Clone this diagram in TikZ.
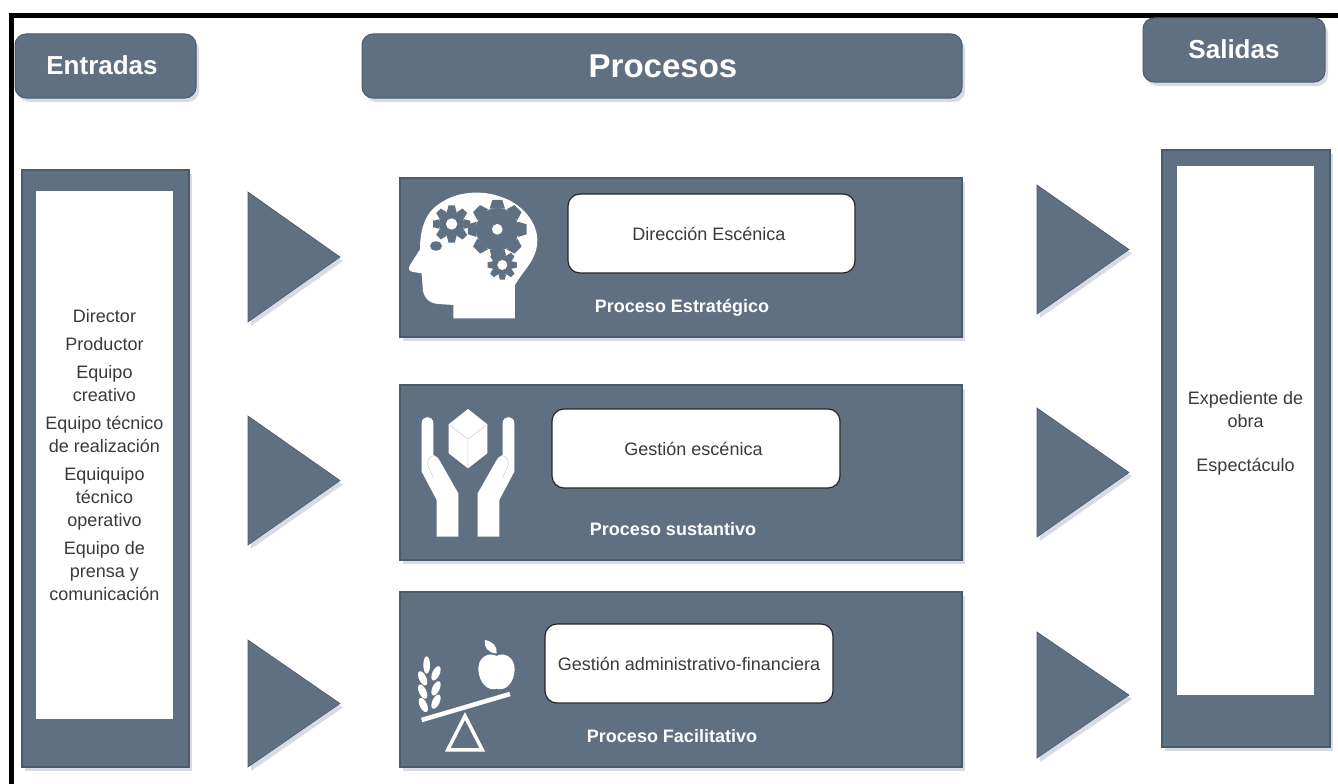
\documentclass[tikz,border=0pt]{standalone}
\usepackage{fontspec}
\setmainfont{Liberation Sans}
\usepackage{xcolor}
\usetikzlibrary{shadows}

\definecolor{pizarra}{HTML}{5F7083}
\definecolor{pizarraOscuro}{HTML}{4C5A6C}
\definecolor{sombraAzul}{HTML}{8C98B8}
\definecolor{textoGris}{HTML}{3A3A3A}

\tikzset{
  sombra/.style={drop shadow={shadow xshift=3pt,shadow yshift=-4pt,fill=sombraAzul,opacity=.35}},
  titulo/.style={draw=pizarraOscuro, line width=1pt, fill=pizarra, rounded corners=11pt, sombra, text=white, inner sep=0pt, font=\fontsize{26}{30}\selectfont\bfseries},
  panel/.style={draw=pizarraOscuro, line width=1.2pt, fill=pizarra, sombra, inner sep=0pt},
  blanco/.style={draw=none, fill=white, inner sep=0pt, align=center, text=textoGris, font=\fontsize{18}{23}\selectfont},
  lista/.style={inner sep=0pt, align=center, text=textoGris, font=\fontsize{18}{23}\selectfont},
  caja/.style={draw=black!85, line width=1.2pt, fill=white, rounded corners=12pt, inner sep=0pt, align=center, text=textoGris, font=\fontsize{18}{23}\selectfont},
  rotulo/.style={text=white, inner sep=0pt, font=\fontsize{18}{22}\selectfont\bfseries},
  flecha/.style={draw=pizarraOscuro, line width=.6pt, fill=pizarra, sombra},
  icono/.style={fill=white, draw=none},
  detalle/.style={draw=black!20, line width=.5pt}
}

% engranaje: x, y, radio, radio del diente, agujero
\newcommand{\engranaje}[5]{
  \fill[pizarra] (#1,#2) circle (#3);
  \foreach \ang in {0,45,...,315}
    \fill[pizarra, shift={(#1,#2)}, rotate=\ang] (#3-2,-#4*.26) -- (#4,-#4*.17) -- (#4,#4*.17) -- (#3-2,#4*.26) -- cycle;
  \fill[white] (#1,#2) circle (#5);
}

\begin{document}
\begin{tikzpicture}[x=1pt, y=-1pt]
  \useasboundingbox (0,0) rectangle (1338,784);

  % marco
  \draw[line width=5pt, black] (11.5,784) -- (11.5,15.5) -- (1338,15.5);

  % titulos
  \node (tituloEntradas) [titulo, minimum width=181pt, minimum height=64pt] at (105.5,66) {\hspace*{-7pt}\raisebox{2pt}{Entradas}};
  \node (tituloProcesos) [titulo, minimum width=600pt, minimum height=64pt, font=\fontsize{33}{38}\selectfont\bfseries] at (662,66) {\hspace*{2pt}Procesos};
  \node (tituloSalidas) [titulo, minimum width=182pt, minimum height=64pt] at (1234,50) {\raisebox{1pt}{Salidas}};

  % columnas laterales
  \node (panelEntradas) [panel, minimum width=167pt, minimum height=597pt] at (105.5,468.5) {};
  \node (listaEntradas) [blanco, minimum width=137pt, minimum height=528pt] at (104.5,455) {Director\\[5pt]Productor\\[5pt]Equipo\\creativo\\[5pt]Equipo técnico\\de realización\\[5pt]Equiquipo\\técnico\\operativo\\[5pt]Equipo de\\prensa y\\comunicación};
  \node (panelSalidas) [panel, minimum width=168pt, minimum height=597pt] at (1246,448.5) {};
  \node (blancoSalidas) [blanco, minimum width=137pt, minimum height=529pt] at (1245.5,430.5) {};
  \node (listaSalidas) [lista] at (1245.5,433.5) {Expediente de\\obra\\[21pt]Espectáculo};

  % procesos
  \node (panelEstrategico) [panel, minimum width=562pt, minimum height=159pt] at (681,257.5) {};
  \node (panelSustantivo) [panel, minimum width=562pt, minimum height=175pt] at (681,472.5) {};
  \node (panelFacilitativo) [panel, minimum width=562pt, minimum height=175pt] at (681,679.5) {};
  \node (cajaDireccion) [caja, minimum width=287pt, minimum height=79pt] at (711.5,233.5) {\hspace*{-5pt}Dirección Escénica};
  \node (cajaGestion) [caja, minimum width=288pt, minimum height=79pt] at (696,448.5) {\hspace*{-5pt}Gestión escénica};
  \node (cajaAdmin) [caja, minimum width=288pt, minimum height=79pt] at (689,663.5) {Gestión administrativo-financiera};
  \node (rotuloEstrategico) [rotulo] at (682,308) {Proceso Estratégico};
  \node (rotuloSustantivo) [rotulo] at (673,529) {Proceso sustantivo};
  \node (rotuloFacilitativo) [rotulo] at (672,736) {Proceso Facilitativo};

  % flechas
  \foreach \xa/\ya/\alto in {248/192/130, 248/416/129, 248/640/127, 1037/185/129, 1037/408/129, 1037/632/126}
    \path[flecha] (\xa,\ya) -- (\xa+92,\ya+\alto/2) -- (\xa,\ya+\alto) -- cycle;

  % cabeza
  \begin{scope}[shift={(400,170)}, x=.3333pt, y=-.3333pt]
    \fill[icono] (345,445) -- (160,445) -- (160,405) -- (115,402) .. controls (85,400) and (68,380) .. (68,350) -- (65,310) -- (35,305) .. controls (25,303) and (25,292) .. (32,282) -- (60,238) .. controls (60,190) and (70,130) .. (120,100) .. controls (170,65) and (240,60) .. (295,78) .. controls (370,100) and (412,160) .. (412,210) .. controls (412,270) and (370,300) .. (345,345) -- cycle;
    \engranaje{292}{178}{64}{88}{16}
    \engranaje{155}{162}{38}{56}{17}
    \engranaje{307}{285}{30}{44}{15}
    \fill[pizarra] (108,228) ellipse (18 and 14);
  \end{scope}

  % manos
  \begin{scope}[shift={(400,385)}, x=.3333pt, y=-.3333pt]
    \foreach \lado/\centro in {1/0, -1/408} {
      \begin{scope}[xshift=\centro*.3333pt, xscale=\lado]
        \fill[icono] (65,115) .. controls (65,90) and (100,90) .. (100,115) -- (100,210) .. controls (110,212) and (115,220) .. (122,232) -- (175,325) -- (175,455) -- (110,455) -- (110,345) -- (65,260) -- cycle;
        \draw[detalle] (100,212) .. controls (85,215) and (80,230) .. (85,245) -- (100,278);
      \end{scope}
    }
    \fill[icono] (204,72) -- (262,118) -- (262,205) -- (204,250) -- (146,205) -- (146,118) -- cycle;
    \draw[detalle] (146,118) -- (204,162) -- (262,118) (204,162) -- (204,250);
  \end{scope}

  % balanza
  \begin{scope}[shift={(400,590)}, x=.3333pt, y=-.3333pt]
    \draw[white, line width=4.5pt] (65,390) -- (330,312);
    \draw[white, line width=3.5pt, line join=miter] (195,378) -- (247,480) -- (143,480) -- cycle;
    % manzana
    \fill[icono] (290,198) .. controls (310,185) and (345,200) .. (344,240) .. controls (342,280) and (315,305) .. (290,296) .. controls (265,305) and (238,280) .. (235,240) .. controls (233,200) and (268,185) .. (290,198) -- cycle;
    \fill[icono] (255,150) .. controls (280,155) and (292,170) .. (290,190) .. controls (265,190) and (250,170) .. (255,150) -- cycle;
    % espiga
    \fill[icono] (80,225) ellipse (10 and 26);
    \foreach \ex/\ey/\ang in {68/265/25, 108/250/-25, 68/305/25, 108/295/-25, 70/345/25, 108/335/-25}
      \fill[icono, rotate around={\ang:(\ex,\ey)}] (\ex,\ey) ellipse (11 and 23);
  \end{scope}
\end{tikzpicture}
\end{document}
